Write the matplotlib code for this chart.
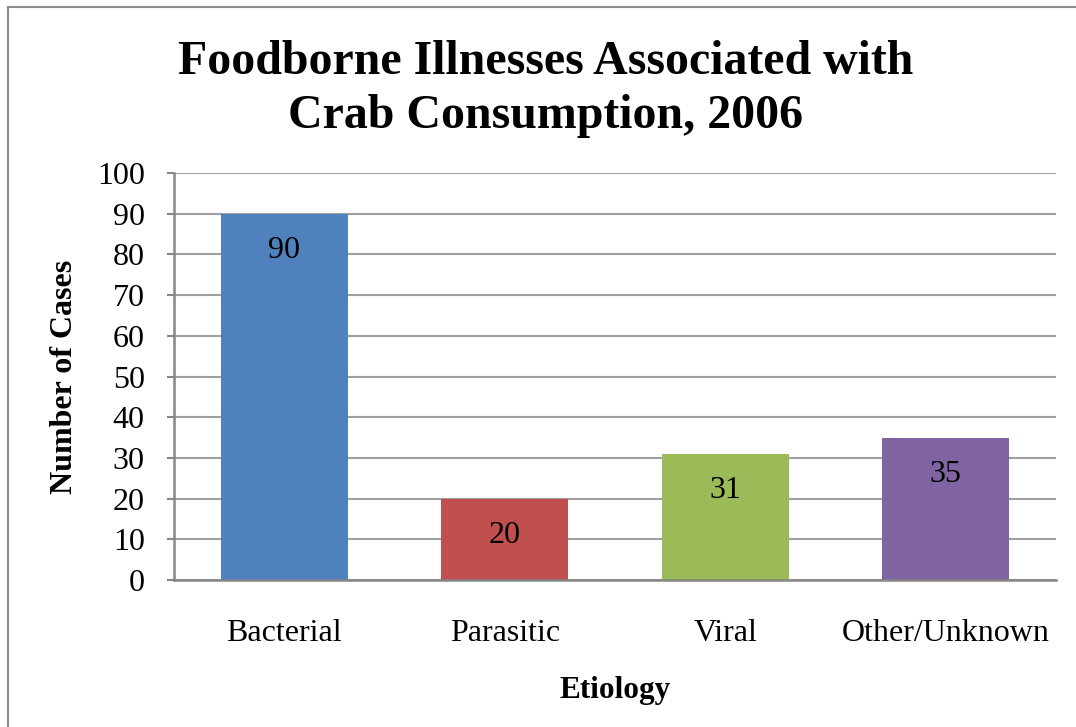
import matplotlib.pyplot as plt
from matplotlib.patches import Rectangle

categories = ["Bacterial", "Parasitic", "Viral", "Other/Unknown"]
cases = [90, 20, 31, 35]
colors = ["#4f81bd", "#c0504d", "#9bbb59", "#8064a2"]
yticks = [0, 10, 20, 30, 40, 50, 60, 70, 80, 90, 100]

plt.rcParams["font.family"] = ["Liberation Serif", "DejaVu Serif"]

fig = plt.figure(figsize=(10.76, 7.27), dpi=100)
ax = fig.add_axes([174 / 1076, 1 - 580 / 727, (1056 - 174) / 1076, (580 - 173) / 727])

# outer chart border
fig.patches.append(Rectangle((8 / 1076, -0.01), 1.1, 1 - 7 / 727 + 0.01,
                             transform=fig.transFigure, fill=False,
                             edgecolor="#8c8c8c", linewidth=1.5))

x = range(len(categories))
bars = ax.bar(x, cases, width=0.576, color=colors, zorder=2)
for b, v in zip(bars, cases):
    ax.text(b.get_x() + b.get_width() / 2, v - 9, str(v), ha="center", va="center",
            fontsize=23, zorder=3)

ax.set_xlim(-0.5, 3.5)
ax.set_ylim(0, 100)
ax.set_yticks(yticks)
ax.set_xticks(list(x))
ax.set_xticklabels(categories)
ax.grid(axis="y", color="#a0a0a0", linewidth=1.5, zorder=1)
ax.tick_params(axis="y", labelsize=23, length=5, color="#868686", width=1.5, pad=16)
ax.tick_params(axis="x", labelsize=23, length=0, pad=28)
for s in ["top", "right"]:
    ax.spines[s].set_visible(False)
for s in ["left", "bottom"]:
    ax.spines[s].set_color("#868686")
    ax.spines[s].set_linewidth(1.8)

ax.set_xlabel("Etiology", fontsize=22.5, fontweight="bold", labelpad=20)
ax.set_ylabel("Number of Cases", fontsize=23, fontweight="bold", labelpad=13)

fig.text(546 / 1076, 1 - 89 / 727, "Foodborne Illnesses Associated with\nCrab Consumption, 2006",
         ha="center", va="center", fontsize=34.5, fontweight="bold", linespacing=1.3)

fig.savefig("out.png", dpi=100)
